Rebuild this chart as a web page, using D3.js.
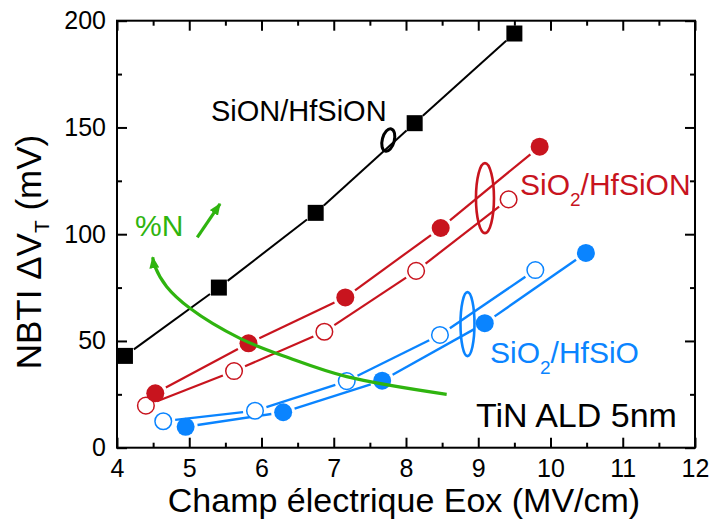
<!DOCTYPE html>
<html><head><meta charset="utf-8">
<script src="https://cdn.jsdelivr.net/npm/d3@7"></script>
<style>body{margin:0;background:#fff}svg{display:block}text{font-family:"Liberation Sans",Arial,sans-serif}</style>
</head><body>
<svg id="c" width="712" height="526"></svg>
<script>
// ---- data ----
const xTicks = [4,5,6,7,8,9,10,11,12];
const yTicks = [0,50,100,150,200];
const sionX = [4.11, 5.41, 6.75, 8.12, 9.50];
const sionY = [43, 75, 110, 152, 194];
const redFilledX = [4.53, 5.82, 7.16, 8.48, 9.85];
const redFilledY = [25.5, 48.9, 70.4, 102.9, 141];
const redOpenX = [4.40, 5.62, 6.87, 8.14, 9.42];
const redOpenY = [19.7, 35.9, 54.3, 82.8, 116.3];
const blueFilledX = [4.95, 6.30, 7.67, 9.09, 10.49];
const blueFilledY = [9.8, 16.6, 31.4, 58.3, 91.2];
const blueOpenX = [4.64, 5.91, 7.18, 8.47, 9.79];
const blueOpenY = [12.4, 17.3, 31.2, 52.8, 83.2];
// %N trend curve (data units), drawn from tail to arrow tip
const trendX = [8.563, 7.179, 6.394, 5.702, 5.010, 4.688, 4.526, 4.494];
const trendY = [25.0, 33.3, 41.9, 51.2, 65.3, 75.4, 84.8, 89.2];

const RED = "#c8141e", BLUE = "#0a84ff", GREEN = "#2fb40f";

const svg = d3.select("#c");
const L = 117, R = 695, T = 20.7, B = 447.7;
const x = d3.scaleLinear().domain([4,12]).range([L,R]);
const y = d3.scaleLinear().domain([0,200]).range([B,T]);

const defs = svg.append("defs");
defs.append("marker").attr("id","ga").attr("viewBox","0 0 12 10").attr("refX",11).attr("refY",5)
  .attr("markerWidth",12).attr("markerHeight",10).attr("markerUnits","userSpaceOnUse").attr("orient","auto")
  .append("path").attr("d","M0,0 L12,5 L0,10 Z").attr("fill",GREEN);

// axes
const minorX = d3.range(4.5,12,1);
const minorY = d3.range(25,200,50);
function styleAxis(g){ g.select(".domain").remove(); g.selectAll("line").attr("stroke","#000").attr("stroke-width",2);
  g.selectAll("text").attr("font-size",25).attr("fill","#000").attr("font-family","Liberation Sans, Arial"); }
svg.append("g").attr("transform",`translate(0,${B})`)
  .call(d3.axisBottom(x).tickValues(xTicks).tickFormat(d3.format("d")).tickSize(-10).tickPadding(12)).call(styleAxis);
svg.append("g").attr("transform",`translate(0,${B})`)
  .call(d3.axisBottom(x).tickValues(minorX).tickFormat("").tickSize(-5)).call(styleAxis);
svg.append("g").attr("transform",`translate(0,${T})`)
  .call(d3.axisTop(x).tickValues(xTicks).tickFormat("").tickSize(-10)).call(styleAxis);
svg.append("g").attr("transform",`translate(0,${T})`)
  .call(d3.axisTop(x).tickValues(minorX).tickFormat("").tickSize(-5)).call(styleAxis);
svg.append("g").attr("transform",`translate(${L},0)`)
  .call(d3.axisLeft(y).tickValues(yTicks).tickFormat(d3.format("d")).tickSize(-10).tickPadding(11)).call(styleAxis);
svg.append("g").attr("transform",`translate(${L},0)`)
  .call(d3.axisLeft(y).tickValues(minorY).tickFormat("").tickSize(-5)).call(styleAxis);
svg.append("g").attr("transform",`translate(${R},0)`)
  .call(d3.axisRight(y).tickValues(yTicks).tickFormat("").tickSize(-10)).call(styleAxis);
svg.append("g").attr("transform",`translate(${R},0)`)
  .call(d3.axisRight(y).tickValues(minorY).tickFormat("").tickSize(-5)).call(styleAxis);
svg.append("rect").attr("x",L).attr("y",T).attr("width",R-L).attr("height",B-T)
  .attr("fill","none").attr("stroke","#000").attr("stroke-width",2);

// axis titles
svg.append("text").attr("x",(L+R)/2-2).attr("y",512).attr("text-anchor","middle").attr("font-size",34)
  .text("Champ électrique Eox (MV/cm)");
const yt = svg.append("text").attr("transform",`translate(41,252) rotate(-90)`).attr("text-anchor","middle").attr("font-size",35);
yt.append("tspan").text("NBTI ΔV");
yt.append("tspan").attr("font-size",21).attr("dy",8).text("T");
yt.append("tspan").attr("dy",-8).text(" (mV)");

// series lines with gaps around markers
function gappedLine(xs, ys, color, gap, width){
  const pts = xs.map((v,i)=>[x(v), y(ys[i])]);
  for(let i=0;i<pts.length-1;i++){
    const [x1,y1]=pts[i], [x2,y2]=pts[i+1];
    const dx=x2-x1, dy=y2-y1, len=Math.hypot(dx,dy), ux=dx/len, uy=dy/len;
    svg.append("line").attr("x1",x1+ux*gap).attr("y1",y1+uy*gap).attr("x2",x2-ux*gap).attr("y2",y2-uy*gap)
      .attr("stroke",color).attr("stroke-width",width);
  }
}
gappedLine(sionX, sionY, "#000", 11, 2);
gappedLine(redFilledX, redFilledY, RED, 12, 2.2);
gappedLine(redOpenX, redOpenY, RED, 12, 2.2);
gappedLine(blueFilledX, blueFilledY, BLUE, 12, 2.4);
gappedLine(blueOpenX, blueOpenY, BLUE, 12, 2.4);

// markers
svg.selectAll(".sq").data(sionX.map((v,i)=>[v,sionY[i]])).join("rect")
  .attr("x",d=>x(d[0])-8).attr("y",d=>y(d[1])-8).attr("width",16).attr("height",16).attr("fill","#000");
function circles(xs, ys, color, filled){
  svg.append("g").selectAll("circle").data(xs.map((v,i)=>[v,ys[i]])).join("circle")
    .attr("cx",d=>x(d[0])).attr("cy",d=>y(d[1])).attr("r",filled?9:8.3)
    .attr("fill",filled?color:"#fff").attr("stroke",color).attr("stroke-width",filled?0:1.5);
}
circles(redOpenX, redOpenY, RED, false);
circles(redFilledX, redFilledY, RED, true);
circles(blueOpenX, blueOpenY, BLUE, false);
circles(blueFilledX, blueFilledY, BLUE, true);

// %N trend curve
const trendLine = d3.line().x(d=>x(d[0])).y(d=>y(d[1])).curve(d3.curveCatmullRom);
svg.append("path").attr("d",trendLine(trendX.map((v,i)=>[v,trendY[i]])))
  .attr("fill","none").attr("stroke",GREEN).attr("stroke-width",3.2).attr("marker-end","url(#ga)");
svg.append("line").attr("x1",x(5.111)).attr("y1",y(98.5)).attr("x2",x(5.426)).attr("y2",y(114.2))
  .attr("stroke",GREEN).attr("stroke-width",3.2).attr("marker-end","url(#ga)");

// ellipses
function ell(cx,cy,rx,ry,rot,color,w){
  svg.append("ellipse").attr("transform",`translate(${x(cx)},${y(cy)}) rotate(${rot})`)
    .attr("rx",rx).attr("ry",ry).attr("fill","none").attr("stroke",color).attr("stroke-width",w);
}
ell(7.755,144.1,6,11.5,15,"#000",3);
ell(9.093,116.9,9,35,0,RED,2.6);
ell(8.851,57.9,7,32,0,BLUE,2.6);

// labels
svg.append("text").attr("x",x(5.301)).attr("y",y(153.0)).attr("font-size",29).text("SiON/HfSiON");
function sio2(xv,yv,rest,color){
  const t=svg.append("text").attr("x",x(xv)).attr("y",y(yv)).attr("font-size",30).attr("fill",color);
  t.append("tspan").text("SiO");
  t.append("tspan").attr("font-size",19).attr("dy",11).text("2");
  t.append("tspan").attr("dy",-11).text(rest);
}
sio2(9.578,118.4,"/HfSiON",RED);
sio2(9.163,39.8,"/HfSiO",BLUE);
svg.append("text").attr("x",x(8.969)).attr("y",y(9.8)).attr("font-size",34).text("TiN ALD 5nm");
svg.append("text").attr("x",x(4.249)).attr("y",y(99.2)).attr("font-size",30).attr("fill",GREEN).text("%N");
</script>
</body></html>
